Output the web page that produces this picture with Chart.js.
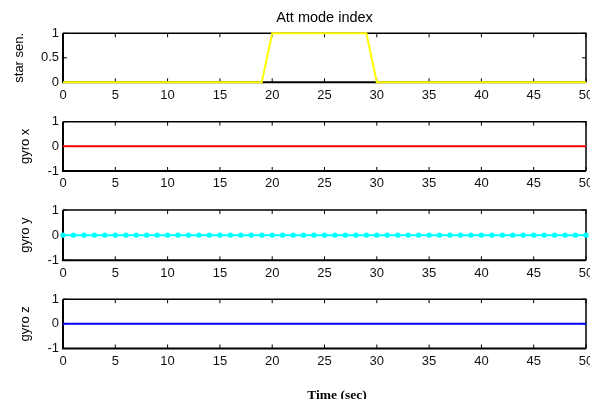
<!DOCTYPE html>
<html>
<head>
<meta charset="utf-8">
<script src="https://cdn.jsdelivr.net/npm/chart.js@4"></script>
<style>
  html, body { margin: 0; padding: 0; background: #fff; width: 590px; height: 399px; overflow: hidden; }
  #wrap { position: relative; width: 590px; height: 399px; overflow: hidden; }
  #wrap canvas { position: absolute; left: 0; top: 0; }
</style>
</head>
<body>
<div id="wrap">
  <canvas id="p1" width="600" height="399"></canvas>
  <canvas id="p2" width="600" height="399"></canvas>
  <canvas id="p3" width="600" height="399"></canvas>
  <canvas id="p4" width="600" height="399"></canvas>
</div>
<script>
// ---- data ----
const timeSec = [0,1,2,3,4,5,6,7,8,9,10,11,12,13,14,15,16,17,18,19,20,21,22,23,24,25,
                 26,27,28,29,30,31,32,33,34,35,36,37,38,39,40,41,42,43,44,45,46,47,48,49,50];
const starSensor = [0,0,0,0,0,0,0,0,0,0,0,0,0,0,0,0,0,0,0,0,1,1,1,1,1,1,
                    1,1,1,1,0,0,0,0,0,0,0,0,0,0,0,0,0,0,0,0,0,0,0,0,0];
const gyroX = [0,0,0,0,0,0,0,0,0,0,0,0,0,0,0,0,0,0,0,0,0,0,0,0,0,0,
               0,0,0,0,0,0,0,0,0,0,0,0,0,0,0,0,0,0,0,0,0,0,0,0,0];
const gyroY = [0,0,0,0,0,0,0,0,0,0,0,0,0,0,0,0,0,0,0,0,0,0,0,0,0,0,
               0,0,0,0,0,0,0,0,0,0,0,0,0,0,0,0,0,0,0,0,0,0,0,0,0];
const gyroZ = [0,0,0,0,0,0,0,0,0,0,0,0,0,0,0,0,0,0,0,0,0,0,0,0,0,0,
               0,0,0,0,0,0,0,0,0,0,0,0,0,0,0,0,0,0,0,0,0,0,0,0,0];
const xTicks = [0,5,10,15,20,25,30,35,40,45,50];
const starTicks = [0,0.5,1];
const gyroTicks = [-1,0,1];
const panelLabels = ['star sen.', 'gyro x', 'gyro y', 'gyro z'];
const plotTitle = 'Att mode index';
const xAxisTitle = 'Time (sec)';

// ---- layout / style ----
const CANVAS_H = 399;
const AXIS_LEFT = 63;
const X_AXIS_H = 25;
const TICK_LEN = 4;
const SANS = '"Liberation Sans", Arial, Helvetica, sans-serif';
Chart.defaults.font.family = SANS;
Chart.defaults.color = '#111';

// inward tick marks and the axes box, drawn beneath the data lines
const axesBox = {
  id: 'axesBox',
  beforeDatasetsDraw(chart) {
    const { ctx, chartArea: { left, right, top, bottom }, scales: { x, y } } = chart;
    ctx.save();
    ctx.strokeStyle = '#000';
    ctx.lineWidth = 1;
    ctx.beginPath();
    x.ticks.forEach(t => {
      const px = x.getPixelForValue(t.value);
      ctx.moveTo(px, top); ctx.lineTo(px, top + TICK_LEN);
      ctx.moveTo(px, bottom); ctx.lineTo(px, bottom - TICK_LEN);
    });
    y.ticks.forEach(t => {
      const py = y.getPixelForValue(t.value);
      ctx.moveTo(left, py); ctx.lineTo(left + TICK_LEN, py);
      ctx.moveTo(right, py); ctx.lineTo(right - TICK_LEN, py);
    });
    ctx.stroke();
    ctx.lineWidth = 1.5;
    ctx.beginPath();
    ctx.moveTo(left, top); ctx.lineTo(right, top); ctx.lineTo(right, bottom);
    ctx.stroke();
    ctx.lineWidth = 2;
    ctx.beginPath();
    ctx.moveTo(left, top); ctx.lineTo(left, bottom); ctx.lineTo(right, bottom);
    ctx.stroke();
    ctx.restore();
  }
};

// shared x-axis caption under the last panel
const timeCaption = {
  id: 'timeCaption',
  afterDraw(chart) {
    const { ctx } = chart;
    ctx.save();
    ctx.font = 'bold 13.5px "Liberation Serif", "Times New Roman", serif';
    ctx.fillStyle = '#000';
    ctx.textAlign = 'center';
    ctx.textBaseline = 'alphabetic';
    ctx.fillText(xAxisTitle, 337, 398.5);
    ctx.restore();
  }
};

const panels = [
  { id: 'p1', values: starSensor, ticks: starTicks, min: 0, max: 1, color: '#ffff00',
    dots: false, plotTop: 33, plotBottom: 82.3, labelPad: 11.7, title: true },
  { id: 'p2', values: gyroX, ticks: gyroTicks, min: -1, max: 1, color: '#ff0000',
    dots: false, plotTop: 121.7, plotBottom: 171, labelPad: 17.7 },
  { id: 'p3', values: gyroY, ticks: gyroTicks, min: -1, max: 1, color: '#00ffff',
    dots: true, plotTop: 210, plotBottom: 260.3, labelPad: 17.7 },
  { id: 'p4', values: gyroZ, ticks: gyroTicks, min: -1, max: 1, color: '#0000ff',
    dots: false, plotTop: 299.2, plotBottom: 348.5, labelPad: 17.7, caption: true }
];

panels.forEach((p, i) => {
  const plugins = [axesBox];
  if (p.caption) plugins.push(timeCaption);
  new Chart(document.getElementById(p.id), {
    type: 'line',
    data: {
      datasets: [{
        data: timeSec.map((t, k) => ({ x: t, y: p.values[k] })),
        borderColor: p.color,
        borderWidth: 2,
        pointRadius: p.dots ? 2.6 : 0,
        pointBackgroundColor: p.color,
        pointBorderWidth: 0,
        tension: 0,
        clip: false
      }]
    },
    options: {
      responsive: false,
      animation: false,
      events: [],
      layout: {
        padding: {
          left: 0,
          right: 14,
          top: p.title ? 0 : p.plotTop,
          bottom: CANVAS_H - p.plotBottom - X_AXIS_H
        }
      },
      plugins: {
        legend: { display: false },
        tooltip: { enabled: false },
        title: {
          display: !!p.title,
          text: plotTitle,
          fullSize: false,
          color: '#000',
          font: { family: SANS, size: 14.5, weight: 'normal' },
          padding: { top: 9.7, bottom: 6.2 }
        }
      },
      scales: {
        x: {
          type: 'linear',
          min: 0, max: 50,
          grid: { display: false, drawTicks: false },
          border: { display: false },
          ticks: { font: { size: 13 }, color: '#111', padding: 5, maxRotation: 0, autoSkip: false,
                   callback: v => String(v) },
          afterBuildTicks: s => { s.ticks = xTicks.map(v => ({ value: v })); },
          afterFit: s => { s.height = X_AXIS_H; }
        },
        y: {
          type: 'linear',
          min: p.min, max: p.max,
          grid: { display: false, drawTicks: false },
          border: { display: false },
          ticks: { font: { size: 13 }, color: '#111', padding: 4, callback: v => String(v) },
          afterBuildTicks: s => { s.ticks = p.ticks.map(v => ({ value: v })); },
          afterFit: s => { s.width = AXIS_LEFT; },
          title: {
            display: true,
            text: panelLabels[i],
            color: '#000',
            font: { size: 13 },
            padding: { top: p.labelPad, bottom: 0 }
          }
        }
      }
    },
    plugins: plugins
  });
});
</script>
</body>
</html>
